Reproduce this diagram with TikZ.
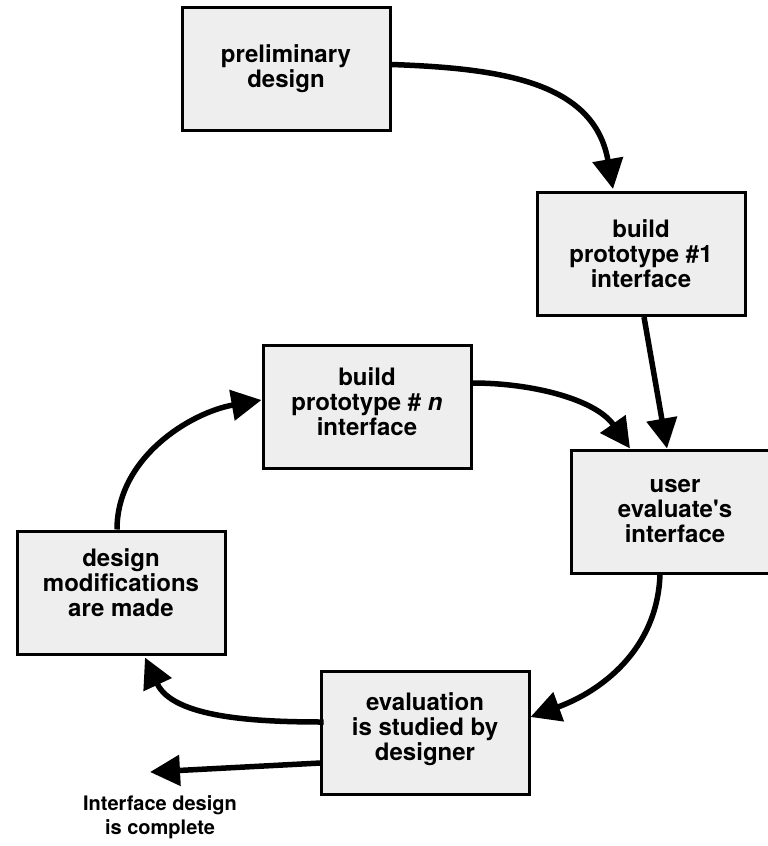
\documentclass[tikz,border=0pt]{standalone}
\usepackage{fontspec}
\setmainfont{TeX Gyre Heros}
\usetikzlibrary{arrows.meta}
\definecolor{boxfill}{HTML}{EEEEEE}
\tikzset{
  stagebox/.style={draw=black, line width=3pt, fill=boxfill, minimum width=208pt, minimum height=123pt,
    inner sep=0pt, align=center, font=\bfseries\fontsize{24}{25}\selectfont},
  flow/.style={line width=5.5pt, -{Triangle[length=30pt,width=30pt]}},
  lbl/.style={align=center, font=\bfseries\fontsize{20}{24}\selectfont}
}
\begin{document}
\begin{tikzpicture}[x=1pt,y=-1pt]
\clip (0,0) rectangle (768,846);
\fill[white] (0,0) rectangle (768,846);

\node[stagebox] (pd) at (286,68.5) {preliminary\\design};
\node[stagebox] (b1) at (641,254) {build\\prototype \#1\\interface};
\node[stagebox] (bn) at (367,407) {build\\prototype \# \textit{n}\\interface\\[-14pt]\mbox{}};
\node[stagebox] (ue) at (675,511.5) {user\\evaluate\textquotesingle s\\interface};
\node[stagebox] (dm) at (121,592.5) {design\\modifications\\are made\\[-6pt]\mbox{}};
\node[stagebox] (ev) at (425,733) {evaluation\\is studied by\\designer\\[-13pt]\mbox{}};
\node[lbl] (done) at (160,817) {Interface design\\is complete};
\coordinate (doneend) at (150,772);

\draw[flow] ([yshift=4pt]pd.east) to[out=-2,in=100,looseness=1.1] ([xshift=-28pt,yshift=2pt]b1.north);
\draw[flow] ([xshift=3pt]b1.south) -- ([xshift=-8pt]ue.north);
\draw[flow] ([yshift=24pt]bn.east) to[out=0,in=125,looseness=0.9] ([xshift=-45pt]ue.north);
\draw[flow] ([xshift=-15pt]ue.south) to[out=-92,in=20,looseness=1.0] ([yshift=16pt]ev.east);
\draw[flow] ([xshift=4pt,yshift=11pt]ev.west) to[out=180,in=-65,looseness=0.9] ([xshift=24pt,yshift=-2pt]dm.south);
\draw[flow] ([xshift=1pt,yshift=-30pt]ev.west) -- (doneend);
\draw[flow] ([xshift=-4pt]dm.north) to[out=90,in=190,looseness=0.95] ([yshift=7pt]bn.west);
\end{tikzpicture}
\end{document}
